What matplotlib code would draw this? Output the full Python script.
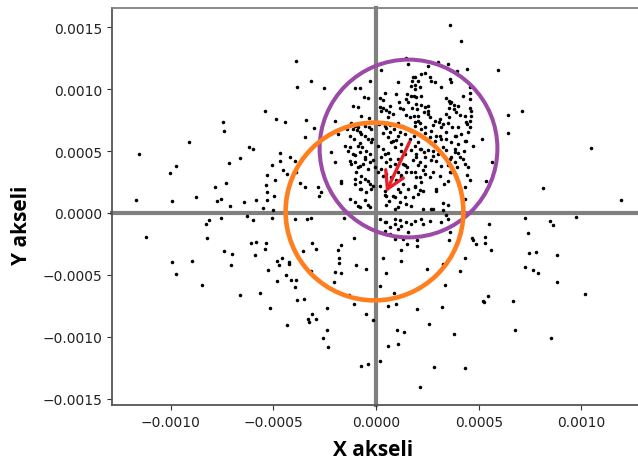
import matplotlib
matplotlib.use("Agg")
import matplotlib.pyplot as plt
import numpy as np

# all coordinates in units of 1e-5
SCALE = 1e-5

# scattered points outside the dense core
outer_pts = [
    (-39.1, 123.0), (-38.4, 102.0), (-31.6, 106.6), (-54.0, 82.2), (-48.8, 75.9), (-44.1, 73.5),
    (-34.2, 75.1), (-30.0, 68.4), (-74.5, 73.5), (-74.0, 66.5), (-34.7, 61.4), (-90.8, 57.6),
    (-115.5, 47.4), (-61.7, 53.6), (-59.7, 51.7), (-66.2, 44.7), (-46.7, 48.7), (-46.7, 41.8),
    (-42.0, 45.5), (-39.3, 41.8), (-71.4, 40.4), (-50.5, 38.8), (-100.4, 32.6), (-97.2, 37.7),
    (-45.1, 34.7), (-43.5, 31.5), (-38.8, 32.9), (-53.0, 30.7), (-49.3, 26.4), (-72.8, 24.0),
    (-78.2, 21.2), (-53.5, 22.9), (-36.8, 24.0), (-34.7, 21.2), (-28.4, 21.2), (-53.2, 17.2),
    (-49.8, 13.5), (-53.0, 10.5), (-87.7, 13.2), (-116.6, 10.7), (-99.3, 9.5), (-77.4, 9.5),
    (-75.6, 11.6), (-70.9, 5.7), (-64.1, 9.1), (-58.4, 10.7), (-54.8, 3.8), (-50.3, 2.7),
    (-27.7, 14.0), (-39.6, -4.8), (-33.7, -4.8), (-31.6, -3.8), (-75.6, -4.0), (-81.4, -5.7),
    (-82.9, -9.1), (-62.6, -2.4), (-59.9, -5.7), (-50.5, -4.0), (-111.9, -19.4), (-82.4, -20.0),
    (-99.3, -39.8), (-97.5, -49.0), (-89.7, -38.8), (-84.7, -58.2), (-74.0, -30.9), (-69.9, -32.9),
    (-70.4, -42.2), (-66.2, -66.0), (-61.0, -24.2), (-58.2, -23.2), (-53.7, -24.2), (-58.9, -33.7),
    (-54.2, -29.3), (-56.3, -64.9), (-51.4, -76.5), (-52.6, -45.8), (-48.2, -38.8), (-45.7, -36.4),
    (-47.1, -42.0), (-42.2, -39.8), (-42.2, -41.4), (-48.0, -54.7), (-43.8, -50.1), (-41.4, -53.9),
    (-39.1, -53.9), (-39.6, -59.5), (-38.4, -70.3), (-34.9, -69.5), (-43.2, -90.2), (-33.1, -85.6),
    (-32.6, -88.3), (-31.0, -81.6), (-29.3, -85.6), (-35.7, -30.9), (-31.0, -24.2), (-29.3, -29.1),
    (-31.8, -46.6),
    (-10.7, -20.4), (-16.9, -25.6), (-18.5, -29.9), (-18.0, -36.6), (-18.0, -40.4), (-19.8, -47.4),
    (-16.9, -48.2), (-20.6, -56.0), (-9.6, -42.0), (-4.9, -45.2), (3.4, -36.4), (5.0, -48.5),
    (12.0, -39.0), (12.3, -29.6), (14.9, -24.8), (13.0, -21.0), (20.0, -21.6), (20.0, -26.4),
    (8.6, -64.9), (1.8, -59.2), (-13.0, -66.2), (-10.7, -73.5), (-23.7, -76.5), (-4.7, -81.6),
    (-1.5, -86.2), (5.7, -75.4), (9.9, -73.8), (19.8, -77.8), (-23.7, -94.5), (-25.9, -101.2),
    (-23.2, -108.2), (10.2, -94.5), (13.6, -96.4), (5.7, -107.7), (10.9, -105.8), (-7.2, -123.4),
    (-3.9, -121.7), (1.8, -119.8), (21.4, -140.8), (28.2, -124.2), (25.6, -89.4), (32.0, -75.7),
    (38.1, -98.0), (43.5, -125.0), (25.0, -45.0), (33.4, -58.2), (32.7, -41.4), (35.4, -21.8),
    (40.9, -46.9), (43.3, -36.4), (47.1, -21.6), (48.8, -25.0), (52.9, -24.2), (56.0, -29.6),
    (51.9, -70.8), (52.4, -71.9), (54.5, -66.8), (66.5, -71.1), (67.5, -94.5), (73.8, -16.4),
    (74.3, -32.1), (78.0, -31.3), (72.4, -43.4), (76.4, -45.8), (79.0, -48.2), (87.9, -33.7),
    (87.9, -55.5), (85.3, -100.7), (101.6, -65.7),
    (36.0, 151.9), (41.2, 138.7), (59.5, 115.3), (64.2, 79.4), (71.2, 82.2), (64.4, 64.6),
    (51.7, 59.5), (56.3, 41.2), (53.7, 26.1), (104.8, 52.5), (81.1, 20.2), (119.2, 10.7),
    (55.0, -8.6), (72.4, -4.0), (84.8, -6.7), (86.0, -9.5), (97.3, -3.2), (-25.3, 101.2),
    (-21.8, 49.0), (-20.1, 41.4), (-16.9, 25.6), (-16.9, 24.0), (-26.9, 16.7), (-15.6, -4.0),
    (52.9, -19.4),
]

# dense core around the shifted mean
core_pts = [
    (14.5, 125.0), (30.2, 122.2), (35.0, 120.4), (25.3, 119.0), (15.6, 120.4), (2.6, 115.8),
    (39.6, 114.7), (44.4, 116.1), (24.0, 113.1), (26.1, 109.6), (26.6, 106.9), (35.9, 108.2),
    (-2.8, 106.6), (10.9, 105.6), (18.8, 110.1), (17.7, 106.9), (20.6, 106.4), (31.5, 102.0),
    (16.9, 102.8), (18.8, 103.4), (45.6, 102.0), (-10.1, 100.7), (-7.9, 100.7),
    (9.9, 96.1), (15.2, 96.1), (18.3, 94.8), (19.3, 93.7), (4.2, 96.7), (-5.8, 93.7), (-3.9, 93.1),
    (34.2, 92.7), (35.4, 90.7), (42.5, 94.8), (45.9, 96.9), (14.5, 92.1), (15.6, 89.4), (11.2, 89.9),
    (35.9, 88.9), (37.8, 87.2), (45.9, 92.1), (22.0, 87.2), (23.7, 85.4), (25.3, 86.7),
    (-11.3, 86.2), (-8.9, 85.4), (1.8, 85.4), (3.4, 84.6), (5.0, 83.4), (11.5, 84.8), (13.3, 84.0),
    (17.5, 84.6), (19.8, 84.0), (35.4, 84.6), (38.1, 84.0), (39.9, 86.2), (45.6, 85.1), (46.4, 82.6),
    (6.3, 81.3), (8.4, 80.0), (-7.2, 78.1), (-3.6, 76.5), (14.5, 79.2), (16.4, 77.3), (18.5, 78.6),
    (20.4, 78.1), (23.4, 81.3), (25.3, 80.0), (34.1, 80.0), (35.4, 77.3), (38.9, 81.3), (40.7, 79.2),
    (43.2, 78.1), (-12.0, 72.7), (-10.4, 70.5), (-5.5, 70.0), (-3.6, 69.2), (-2.3, 67.9), (1.5, 71.9),
    (4.2, 70.5), (6.7, 71.1), (10.7, 72.7), (12.8, 70.0), (15.6, 67.9), (18.8, 73.3), (21.4, 72.7),
    (23.7, 69.2), (27.7, 71.1), (30.5, 73.3), (31.5, 69.2), (35.0, 72.7), (37.1, 69.2), (39.9, 69.2),
    (44.1, 71.9), (45.6, 74.6), (-19.8, 74.1), (-14.1, 67.9), (-9.1, 67.3), (-7.6, 65.7), (-18.5, 63.8),
    (-12.7, 62.4), (-10.7, 59.8), (-5.5, 62.4), (-3.9, 59.8), (-2.3, 57.1), (3.4, 64.6), (5.8, 61.2),
    (8.3, 58.4), (10.7, 62.4), (14.0, 63.8), (16.4, 59.8), (18.5, 62.4), (20.4, 57.1), (23.7, 64.6),
    (26.1, 61.2), (28.6, 58.4), (31.0, 62.4), (34.2, 59.8), (36.6, 57.1), (39.1, 62.4), (41.5, 63.8),
    (43.2, 58.4), (-8.8, 54.4), (-6.7, 53.1), (-4.7, 50.3), (-13.6, 50.3), (-11.2, 47.7), (1.0, 54.4),
    (3.4, 51.7), (5.8, 48.5), (9.1, 53.1), (12.3, 50.3), (14.3, 47.7), (18.8, 54.4), (21.3, 51.7),
    (23.4, 49.0), (27.7, 50.3), (30.2, 47.7), (32.6, 53.1), (38.3, 51.7), (39.9, 48.5), (42.8, 50.3),
    (-12.8, 42.2), (-10.4, 41.0), (-7.9, 38.2), (-5.5, 43.6), (-3.1, 41.0), (-0.6, 36.9), (2.6, 45.0),
    (5.0, 41.0), (6.7, 38.2), (10.7, 43.6), (13.1, 39.6), (15.2, 36.9), (19.6, 45.0), (21.3, 41.0),
    (23.7, 38.2), (27.7, 46.3), (29.3, 42.2), (31.8, 38.2), (35.9, 43.6), (38.3, 41.0), (40.7, 45.0),
    (43.2, 39.6), (-9.6, 32.9), (-7.2, 30.1), (1.0, 32.9), (3.4, 30.1), (10.7, 32.9), (12.3, 28.8),
    (18.8, 32.9), (21.3, 28.8), (23.7, 31.5), (27.7, 32.9), (31.0, 30.1), (35.9, 32.9), (39.1, 30.1),
    (44.4, 30.7), (-10.4, 23.4), (-7.9, 19.4), (-3.9, 26.1), (-1.5, 22.1), (1.8, 22.1), (4.2, 18.0),
    (8.3, 14.0), (10.7, 19.4), (13.1, 23.4), (15.6, 19.4), (18.8, 22.1), (20.4, 15.3), (22.9, 18.0),
    (29.3, 18.0), (33.1, 23.4), (35.0, 26.1), (-12.8, 11.3), (-10.4, 8.6), (-8.8, 5.9), (-3.1, 4.6),
    (5.0, 14.0), (6.3, 9.9), (9.1, 3.2), (11.5, 8.6), (14.7, 7.3), (17.2, 5.9), (27.7, 3.2), (32.6, 8.1),
    (43.2, 11.3), (1.8, -4.8), (5.0, -7.5), (9.1, -4.8), (12.3, -10.3), (14.7, -7.5), (18.8, -6.2),
    (22.9, -8.9), (26.1, -6.2), (31.8, -7.5), (35.0, -4.8), (4.2, -14.3), (6.7, -17.0), (10.7, -12.9),
    (15.6, -15.6), (35.9, -15.6), (46.9, -20.4),
    (-11.2, 67.9), (-8.8, 69.2), (-7.4, 63.8), (-1.9, 59.8), (-7.9, 56.3), (2.6, 82.6), (5.8, 77.3),
    (8.8, 67.9), (11.5, 65.2), (13.6, 69.2), (5.0, 68.7), (6.7, 65.2), (7.4, 57.1), (9.9, 59.0),
    (12.3, 55.7), (-15.2, 54.4), (-12.8, 53.1), (1.9, 92.6), (3.4, 91.5), (6.7, 86.2),
    (18.0, 109.6), (22.0, 112.3), (28.6, 105.6), (36.6, 105.6), (18.8, 100.2), (17.2, 94.8),
    (21.3, 101.5), (22.0, 94.8), (19.6, 88.1), (36.6, 89.4), (46.4, 78.6), (43.9, 73.3), (45.6, 69.2),
    (44.8, 65.2), (25.3, 82.6), (26.1, 77.3), (28.6, 74.6), (31.0, 75.9), (32.6, 71.9), (20.4, 74.6),
    (18.8, 70.5), (17.2, 66.5), (22.0, 67.9), (26.9, 66.5), (29.3, 62.4), (31.8, 59.8), (34.2, 65.2),
    (38.3, 62.4), (39.9, 55.7), (43.9, 58.4), (47.2, 54.4),
    (-10.4, 46.6), (-7.9, 49.3), (-5.5, 45.2), (-3.1, 47.9), (-1.5, 42.6), (-12.0, 39.8), (-8.8, 37.2),
    (-6.3, 39.8), (-3.9, 35.8), (4.2, 47.9), (6.7, 43.9), (9.1, 39.8), (11.5, 42.6), (14.0, 38.5),
    (2.6, 35.8), (5.0, 31.7), (7.4, 29.1), (9.9, 26.4), (12.3, 30.5), (14.7, 33.1), (-10.4, 27.7),
    (-7.9, 25.0), (-5.5, 27.7), (-3.1, 23.7), (-7.2, 19.6), (-4.7, 17.0), (-2.3, 19.6), (-7.9, 4.8),
    (-5.5, 10.3), (-3.9, 6.2), (4.2, 14.3), (9.1, 12.9), (11.5, 17.0), (14.0, 12.9), (5.0, 6.2),
    (10.7, 4.8), (4.2, -7.3), (6.7, -11.3), (9.1, -8.6), (11.5, -5.9), (9.1, -20.8),
    (17.2, 50.6), (19.6, 47.9), (22.0, 51.9), (23.7, 45.2), (18.0, 42.6), (20.4, 38.5), (22.9, 34.5),
    (17.2, 33.1), (19.6, 29.1), (22.0, 25.0), (18.8, 21.0), (21.3, 18.3), (25.3, 50.6), (26.9, 42.6),
    (26.1, 29.1), (29.3, 19.6), (34.2, 50.6), (36.6, 45.2), (38.3, 49.3), (42.3, 43.9), (39.6, 37.2),
    (35.0, 38.5), (36.6, 33.1), (44.8, 37.2), (45.6, 26.4), (43.2, 21.0), (18.0, 12.9), (22.9, 3.5),
    (26.9, 3.5), (32.6, 2.2), (35.0, 6.2), (34.2, -1.9), (17.2, -8.6), (22.0, -4.6),
]

# circle centres and the arrow between them
origin_centre = (-1.0, 2.0)
mean_centre = (15.5, 52.3)
arrow_start = (16.4, 57.6)
arrow_end = (4.9, 17.0)

pts = np.array(outer_pts + core_pts) * SCALE

fig = plt.figure(figsize=(6.38, 4.64), dpi=100)
ax = fig.add_axes([0.1755, 0.125, 0.8276, 0.8556])

ax.axhline(0, color='#808080', lw=3, zorder=1, clip_on=False, solid_capstyle='projecting')
ax.axvline(0, color='#808080', lw=3, zorder=1, clip_on=False, solid_capstyle='projecting')

ax.scatter(pts[:, 0], pts[:, 1], s=6.5, color='black', linewidths=0, zorder=2)

ax.plot(mean_centre[0] * SCALE, mean_centre[1] * SCALE, 'o', ms=128, mfc='none',
        mec='#9B4AA6', mew=2.9, zorder=3)
ax.plot(origin_centre[0] * SCALE, origin_centre[1] * SCALE, 'o', ms=128, mfc='none',
        mec='#FF7F1E', mew=3.3, zorder=4)

ax.annotate('', xy=(arrow_end[0] * SCALE, arrow_end[1] * SCALE),
            xytext=(arrow_start[0] * SCALE, arrow_start[1] * SCALE),
            arrowprops=dict(arrowstyle='->,head_length=0.6,head_width=0.35', color='#E8202A',
                            lw=2.4, mutation_scale=20, shrinkA=0, shrinkB=0),
            zorder=5)

ax.set_xlim(-0.001285, 0.001285)
ax.set_ylim(-0.001551, 0.001656)
ax.set_xticks([-0.001, -0.0005, 0, 0.0005, 0.001])
ax.set_yticks([-0.0015, -0.001, -0.0005, 0, 0.0005, 0.001, 0.0015])
ax.set_xticklabels(['−0.0010', '−0.0005', '0.0000', '0.0005', '0.0010'])
ax.set_yticklabels(['−0.0015', '−0.0010', '−0.0005', '0.0000', '0.0005', '0.0010', '0.0015'])
ax.tick_params(labelsize=10, colors='#333333', labelcolor='#222222')

for side in ['left', 'bottom']:
    ax.spines[side].set_color('#555555')
    ax.spines[side].set_linewidth(1.3)
ax.spines['top'].set_color('#808080')
ax.spines['top'].set_linewidth(1.3)
ax.spines['right'].set_visible(False)

ax.set_xlabel('X akseli', family='Open Sans', weight='bold', fontsize=15)
ax.set_ylabel('Y akseli', family='Open Sans', weight='bold', fontsize=15)
ax.xaxis.set_label_coords(0.494, -0.085)
ax.yaxis.set_label_coords(-0.1515, 0.456)

fig.savefig('out.png', dpi=100)
